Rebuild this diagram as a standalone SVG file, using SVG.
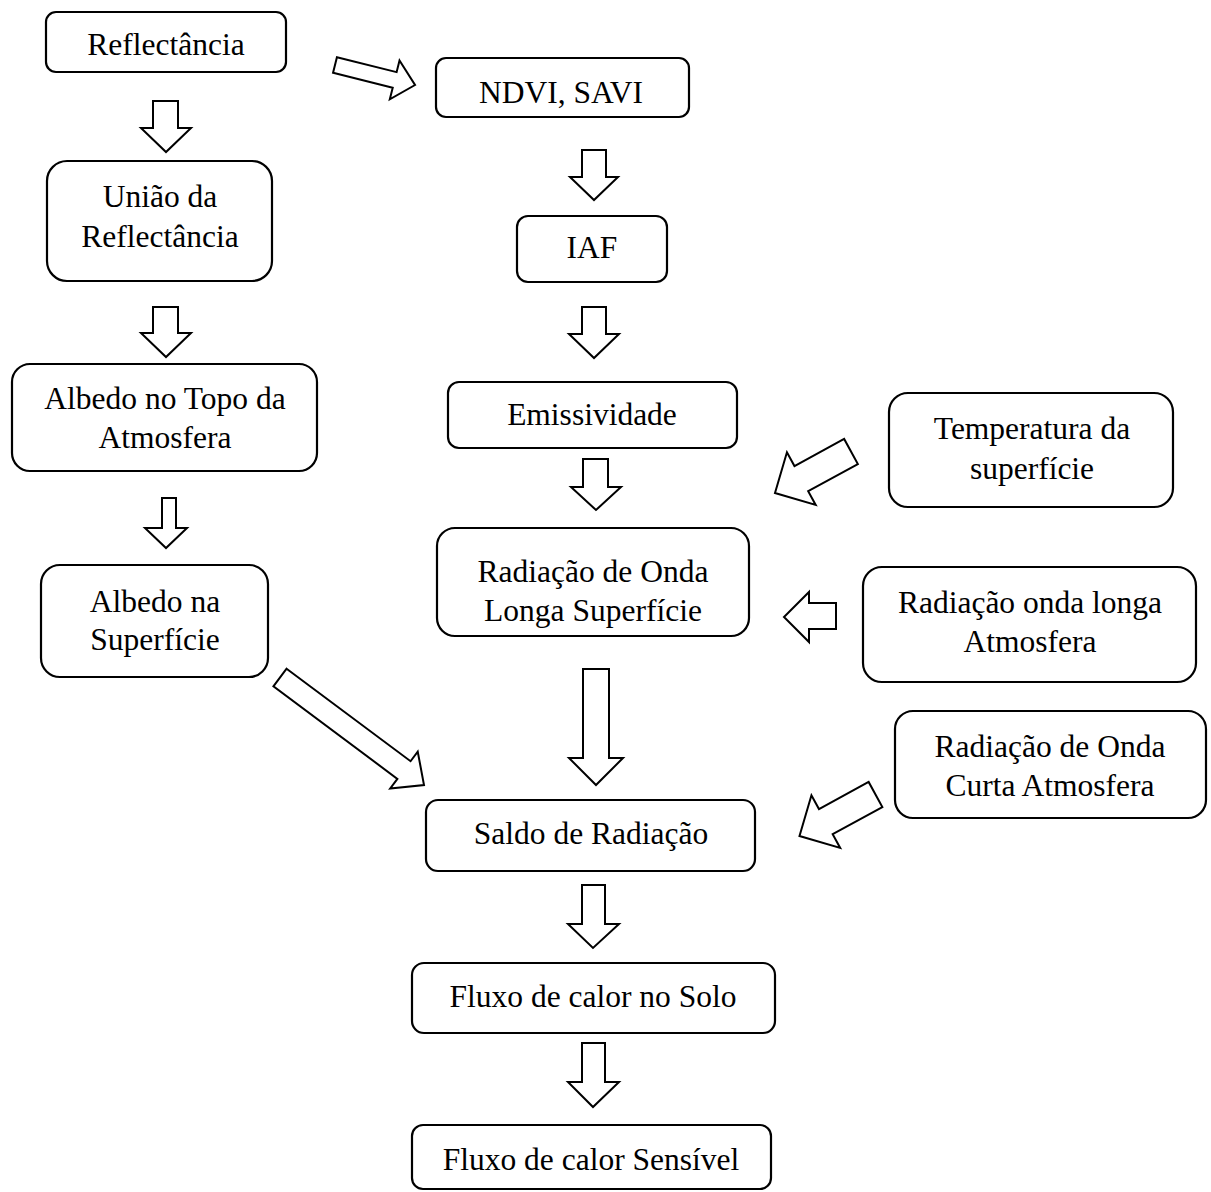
<svg xmlns="http://www.w3.org/2000/svg" width="1211" height="1192" viewBox="0 0 1211 1192">
<style>
.box{fill:#fff;stroke:#000;stroke-width:2.2}
.arr{fill:#fff;stroke:#000;stroke-width:2;stroke-linejoin:miter}
text{font-family:"Liberation Serif","Times New Roman",serif;font-size:31.5px;fill:#000;text-anchor:middle}
</style>
<rect width="1211" height="1192" fill="#fff"/>
<g id="connectors">
<polygon class="arr" points="153,101 178,101 178,128 191,128 166,152 141,128 153,128"/>
<polygon class="arr" points="153,307 178,307 178,333 191,333 166,357 141,333 153,333"/>
<polygon class="arr" points="162,498 176,498 176,528 187,528 166,548 145,528 162,528"/>
<polygon class="arr" transform="translate(335,65) rotate(14.04)" points="0,-8 61.5,-8 61.5,-20 82.5,0 61.5,20 61.5,8 0,8"/>
<polygon class="arr" points="582,150 606,150 606,177 618,177 594,200 570,177 582,177"/>
<polygon class="arr" points="582,307 606,307 606,334 619,334 594,358 569,334 582,334"/>
<polygon class="arr" points="583,459 608,459 608,487 621,487 596,510 571,487 583,487"/>
<polygon class="arr" transform="translate(851,451.5) rotate(151.36)" points="0,-14.3 56.6,-14.3 56.6,-30 86.6,0 56.6,30 56.6,14.3 0,14.3"/>
<polygon class="arr" points="836,603 809,603 809,592 784,617 809,642 809,629 836,629"/>
<polygon class="arr" transform="translate(280,677.5) rotate(36.74)" points="0,-11 154.7,-11 154.7,-23 179.7,0 154.7,23 154.7,11 0,11"/>
<polygon class="arr" points="583,669 609,669 609,758 623,758 596,785 569,758 583,758"/>
<polygon class="arr" transform="translate(875.5,794.5) rotate(151.36)" points="0,-14.3 56.6,-14.3 56.6,-30 86.6,0 56.6,30 56.6,14.3 0,14.3"/>
<polygon class="arr" points="582,885 605,885 605,924 619,924 593,948 568,924 582,924"/>
<polygon class="arr" points="582,1043 605,1043 605,1082 619,1082 593,1107 568,1082 582,1082"/>
</g>
<g id="reflectancia"><rect class="box" x="46" y="12" width="240" height="60" rx="10"/><text x="166" y="55">Reflectância</text></g>
<g id="ndvi"><rect class="box" x="436" y="58" width="253" height="59" rx="10"/><text x="561" y="103">NDVI, SAVI</text></g>
<g id="uniao"><rect class="box" x="47" y="161" width="225" height="120" rx="20"/><text x="160" y="207">União da</text><text x="160" y="247">Reflectância</text></g>
<g id="iaf"><rect class="box" x="517" y="216" width="150" height="66" rx="11"/><text x="592" y="258">IAF</text></g>
<g id="albedo-topo"><rect class="box" x="12" y="364" width="305" height="107" rx="18"/><text x="165" y="409">Albedo no Topo da</text><text x="165" y="448">Atmosfera</text></g>
<g id="emissividade"><rect class="box" x="448" y="382" width="289" height="66" rx="11"/><text x="592" y="425">Emissividade</text></g>
<g id="temperatura"><rect class="box" x="889" y="393" width="284" height="114" rx="19"/><text x="1032" y="439">Temperatura da</text><text x="1032" y="479">superfície</text></g>
<g id="rad-onda-longa-sup"><rect class="box" x="437" y="528" width="312" height="108" rx="18"/><text x="593" y="582">Radiação de Onda</text><text x="593" y="621">Longa Superfície</text></g>
<g id="albedo-sup"><rect class="box" x="41" y="565" width="227" height="112" rx="19"/><text x="155" y="612">Albedo na</text><text x="155" y="650">Superfície</text></g>
<g id="rad-onda-longa-atm"><rect class="box" x="863" y="567" width="333" height="115" rx="19"/><text x="1030" y="613">Radiação onda longa</text><text x="1030" y="652">Atmosfera</text></g>
<g id="rad-onda-curta-atm"><rect class="box" x="895" y="711" width="311" height="107" rx="18"/><text x="1050" y="757">Radiação de Onda</text><text x="1050" y="796">Curta Atmosfera</text></g>
<g id="saldo"><rect class="box" x="426" y="800" width="329" height="71" rx="12"/><text x="591" y="844">Saldo de Radiação</text></g>
<g id="fluxo-solo"><rect class="box" x="412" y="963" width="363" height="70" rx="12"/><text x="593" y="1007">Fluxo de calor no Solo</text></g>
<g id="fluxo-sensivel"><rect class="box" x="412" y="1125" width="359" height="64" rx="11"/><text x="591" y="1170">Fluxo de calor Sensível</text></g>
</svg>
